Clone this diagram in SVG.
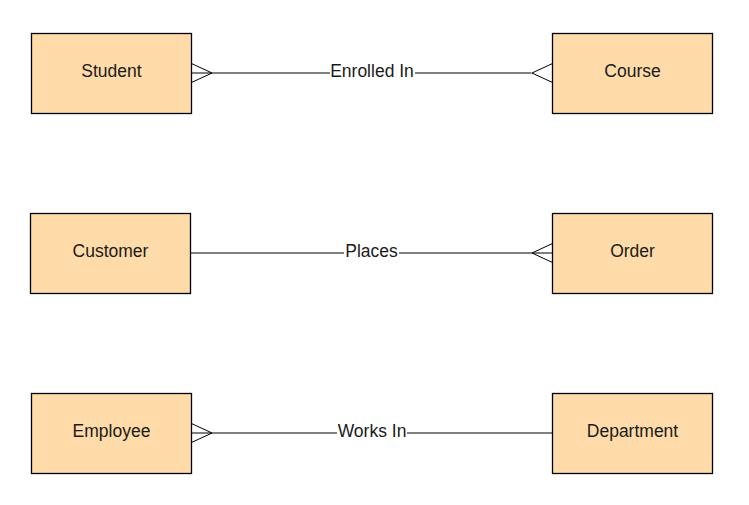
<svg xmlns="http://www.w3.org/2000/svg" width="749" height="505" viewBox="0 0 749 505">
<style>
.box{fill:#fedba8;stroke:#000;stroke-width:1.3}
.t{font-family:"Liberation Sans",Arial,sans-serif;font-size:17.5px;fill:#1a1a1a;text-anchor:middle}
.c{fill:none;stroke:#000;stroke-width:1}
.lb{fill:#fff}
</style>
<rect width="749" height="505" fill="#fff"/>
<g id="connectors">
<g id="c1">
<path class="c" d="M191.5 73H531.5M191.5 63.5L212 73L191.5 82.5M552.5 63.5L532 73L552.5 82.5"/>
<rect class="lb" x="330" y="62" width="85" height="20"/>
<text class="t" x="372" y="77">Enrolled In</text>
</g>
<g id="c2">
<path class="c" d="M190.5 253H552.5M552.5 243.5L532 253L552.5 262.5"/>
<rect class="lb" x="344" y="242" width="55" height="20"/>
<text class="t" x="371.5" y="257">Places</text>
</g>
<g id="c3">
<path class="c" d="M191.5 433H552.5M191.5 423.5L212 433L191.5 442.5"/>
<rect class="lb" x="337" y="422" width="70" height="20"/>
<text class="t" x="372" y="437">Works In</text>
</g>
</g>
<g id="student"><rect class="box" x="31.5" y="33.5" width="160" height="80"/><text class="t" x="111.5" y="77">Student</text></g>
<g id="course"><rect class="box" x="552.5" y="33.5" width="160" height="80"/><text class="t" x="632.5" y="77">Course</text></g>
<g id="customer"><rect class="box" x="30.5" y="213.5" width="160" height="80"/><text class="t" x="110.5" y="257">Customer</text></g>
<g id="order"><rect class="box" x="552.5" y="213.5" width="160" height="80"/><text class="t" x="632.5" y="257">Order</text></g>
<g id="employee"><rect class="box" x="31.5" y="393.5" width="160" height="80"/><text class="t" x="111.5" y="437">Employee</text></g>
<g id="department"><rect class="box" x="552.5" y="393.5" width="160" height="80"/><text class="t" x="632.5" y="437">Department</text></g>
</svg>
